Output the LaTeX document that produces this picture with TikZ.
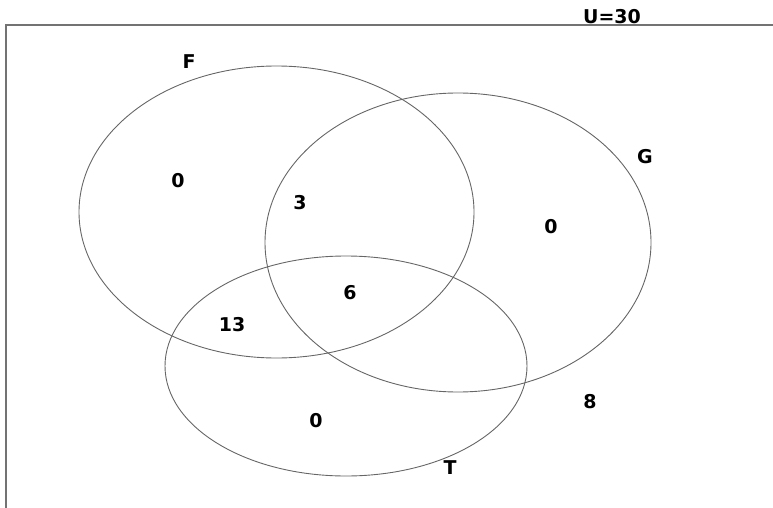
\documentclass[tikz,border=0pt]{standalone}
\usepackage{fontspec}
\setmainfont{DejaVu Sans}
\begin{document}
\begin{tikzpicture}[x=1pt,y=-1pt,
  setline/.style={draw=black!60, line width=0.9pt},
  lbl/.style={font=\bfseries\fontsize{19}{19}\selectfont, inner sep=0pt}]
\useasboundingbox (0,0) rectangle (773,508);
\draw[draw=black!55, line width=1.8pt] (6,508) |- (773,25);
\draw[setline] (276.5,212) ellipse [x radius=197.5, y radius=146];
\draw[setline] (458,242.5) ellipse [x radius=193, y radius=149.5];
\draw[setline] (346,366) ellipse [x radius=181, y radius=110];
\node[lbl] (u) at (612,17) {U=30};
\node[lbl] (f) at (189,62) {F};
\node[lbl] (g) at (645,157) {G};
\node[lbl] (t) at (450,468) {T};
\node[lbl] (n1) at (178,181) {0};
\node[lbl] (n2) at (300,203) {3};
\node[lbl] (n3) at (551,227) {0};
\node[lbl] (n4) at (350,293) {6};
\node[lbl] (n5) at (232,325) {13};
\node[lbl] (n6) at (316,421) {0};
\node[lbl] (n7) at (590,402) {8};
\end{tikzpicture}
\end{document}
